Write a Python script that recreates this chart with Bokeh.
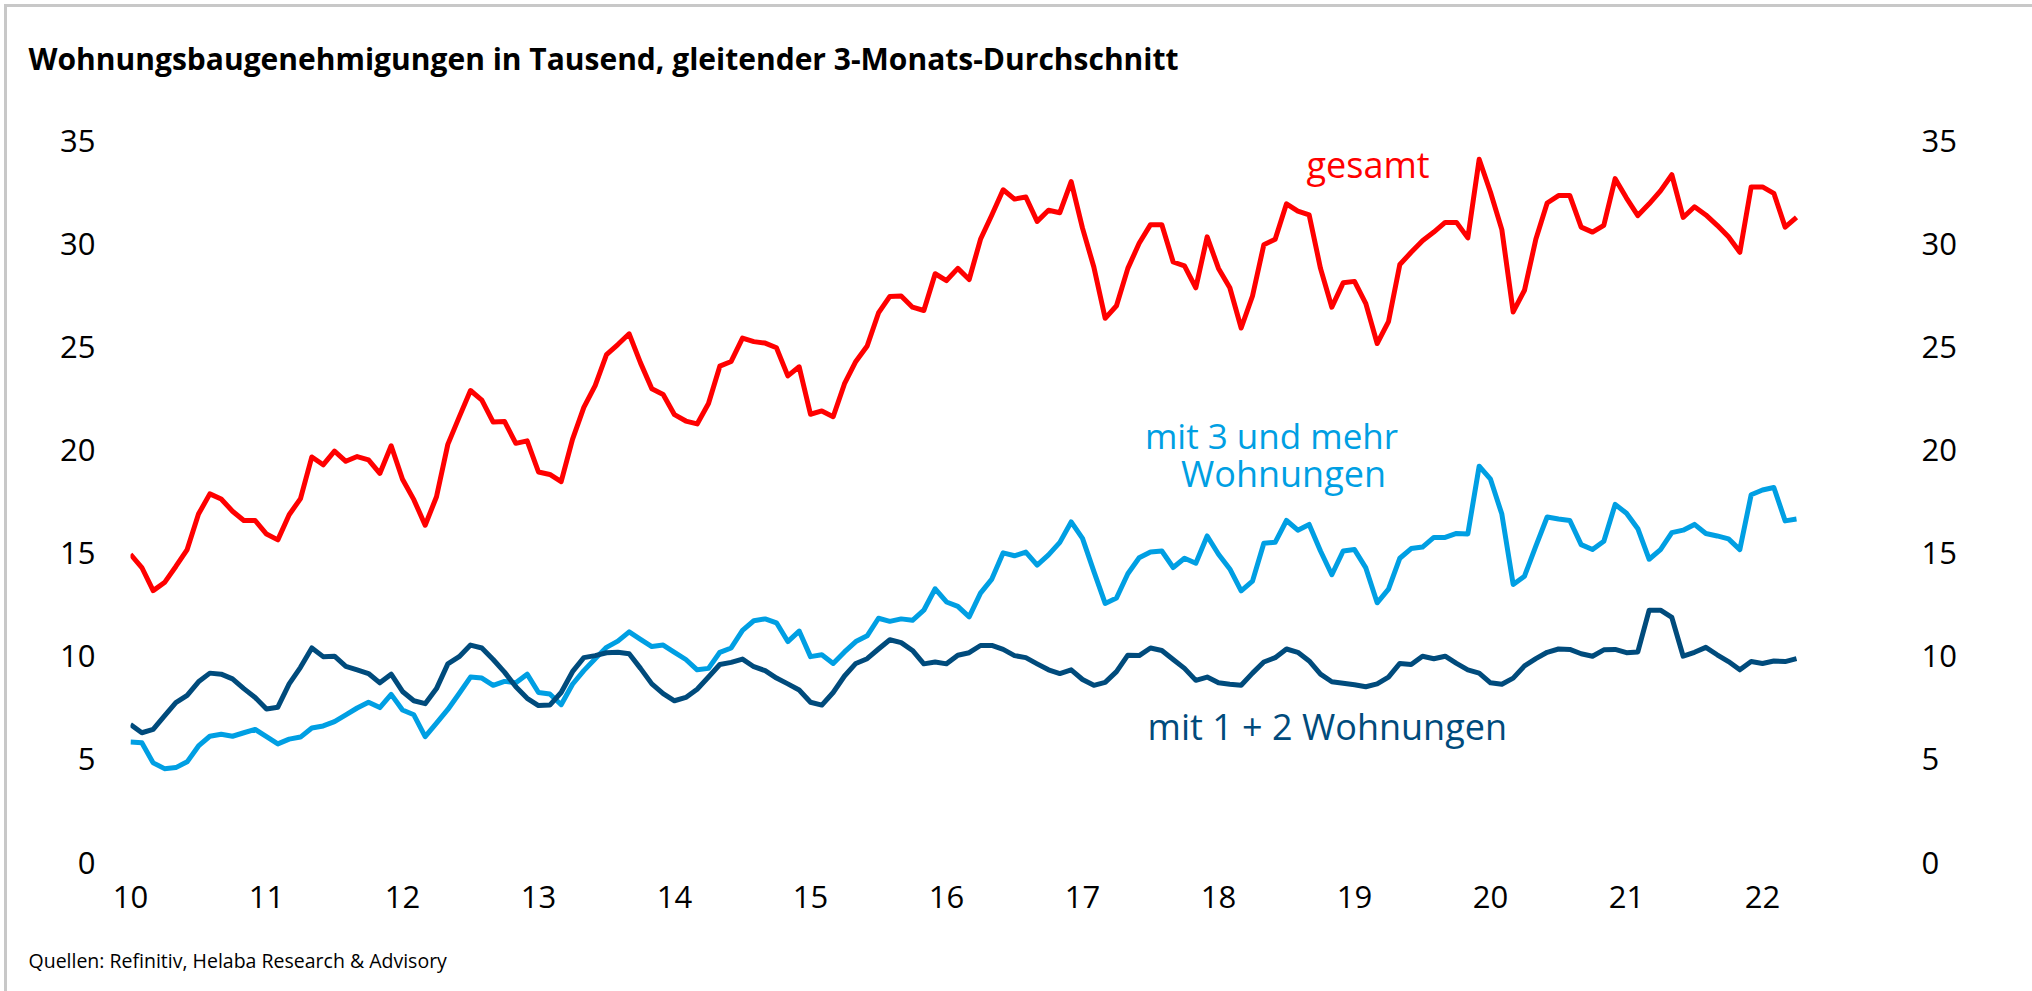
from bokeh.plotting import figure
from bokeh.models import Range1d, LinearAxis, FixedTicker, Label, Title
from bokeh.embed import file_html
from bokeh.resources import INLINE

# ---- data (monthly, Jan 2010 .. Apr 2022), thousands, 3-month moving average ----
gesamt = [14.94, 14.30, 13.18, 13.57, 14.35, 15.17, 16.89, 17.87, 17.62, 17.03, 16.58, 16.58,
          15.92, 15.64, 16.86, 17.64, 19.66, 19.28, 19.94, 19.45, 19.68, 19.52, 18.86, 20.20,
          18.58, 17.59, 16.35, 17.73, 20.27, 21.59, 22.88, 22.41, 21.35, 21.38, 20.32, 20.44,
          18.93, 18.81, 18.46, 20.51, 22.06, 23.12, 24.62, 25.11, 25.63, 24.22, 22.97, 22.69,
          21.71, 21.40, 21.26, 22.25, 24.06, 24.29, 25.42, 25.25, 25.18, 24.95, 23.59, 24.03,
          21.73, 21.89, 21.61, 23.21, 24.29, 25.04, 26.64, 27.44, 27.46, 26.92, 26.76, 28.54,
          28.21, 28.80, 28.26, 30.21, 31.39, 32.61, 32.16, 32.26, 31.08, 31.62, 31.50, 33.01,
          30.75, 28.87, 26.38, 26.99, 28.80, 30.02, 30.92, 30.92, 29.11, 28.92, 27.86, 30.33,
          28.80, 27.86, 25.91, 27.46, 29.95, 30.21, 31.93, 31.58, 31.39, 28.80, 26.92, 28.10,
          28.17, 27.09, 25.16, 26.22, 28.99, 29.58, 30.14, 30.56, 31.03, 31.03, 30.28, 34.09,
          32.49, 30.68, 26.69, 27.74, 30.21, 31.97, 32.33, 32.33, 30.80, 30.56, 30.89, 33.15,
          32.21, 31.36, 31.93, 32.56, 33.34, 31.27, 31.79, 31.39, 30.89, 30.33, 29.58, 32.75,
          32.75, 32.44, 30.80, 31.27]

mehr3 = [5.84, 5.80, 4.83, 4.55, 4.60, 4.88, 5.65, 6.12, 6.22, 6.12, 6.29, 6.45,
         6.10, 5.75, 5.98, 6.08, 6.52, 6.62, 6.83, 7.16, 7.49, 7.77, 7.51, 8.15,
         7.39, 7.16, 6.10, 6.76, 7.42, 8.19, 8.99, 8.94, 8.59, 8.78, 8.71, 9.13,
         8.24, 8.17, 7.65, 8.64, 9.30, 9.88, 10.43, 10.73, 11.18, 10.82, 10.47, 10.54,
         10.19, 9.84, 9.34, 9.41, 10.19, 10.40, 11.25, 11.72, 11.81, 11.62, 10.71, 11.22,
         9.98, 10.07, 9.65, 10.21, 10.71, 10.99, 11.84, 11.69, 11.81, 11.74, 12.23, 13.27,
         12.63, 12.42, 11.91, 13.06, 13.74, 15.01, 14.87, 15.05, 14.42, 14.91, 15.52, 16.51,
         15.71, 14.11, 12.56, 12.82, 14.00, 14.77, 15.05, 15.10, 14.30, 14.75, 14.51, 15.83,
         14.94, 14.23, 13.17, 13.64, 15.48, 15.52, 16.58, 16.11, 16.39, 15.10, 13.95, 15.10,
         15.17, 14.28, 12.59, 13.25, 14.75, 15.22, 15.29, 15.76, 15.76, 15.95, 15.93, 19.21,
         18.58, 16.89, 13.48, 13.88, 15.34, 16.75, 16.65, 16.58, 15.41, 15.17, 15.57, 17.36,
         16.93, 16.18, 14.70, 15.17, 15.99, 16.11, 16.39, 15.95, 15.83, 15.69, 15.17, 17.83,
         18.06, 18.18, 16.56, 16.65]

ein_zwei = [6.69, 6.29, 6.45, 7.11, 7.75, 8.10, 8.76, 9.18, 9.13, 8.90, 8.43, 8.00,
            7.44, 7.53, 8.66, 9.46, 10.40, 9.98, 10.00, 9.51, 9.34, 9.16, 8.71, 9.13,
            8.29, 7.84, 7.70, 8.43, 9.63, 9.98, 10.54, 10.40, 9.84, 9.23, 8.52, 7.96,
            7.61, 7.63, 8.24, 9.25, 9.93, 10.03, 10.17, 10.19, 10.12, 9.41, 8.66, 8.19,
            7.84, 8.00, 8.40, 8.99, 9.60, 9.70, 9.86, 9.49, 9.30, 8.94, 8.66, 8.36,
            7.77, 7.63, 8.24, 9.04, 9.65, 9.88, 10.35, 10.80, 10.66, 10.28, 9.63, 9.72,
            9.63, 10.05, 10.17, 10.52, 10.52, 10.33, 10.03, 9.93, 9.63, 9.34, 9.16, 9.34,
            8.87, 8.59, 8.73, 9.25, 10.05, 10.03, 10.40, 10.28, 9.84, 9.41, 8.83, 8.99,
            8.71, 8.64, 8.59, 9.18, 9.72, 9.93, 10.35, 10.19, 9.77, 9.13, 8.76, 8.69,
            8.62, 8.52, 8.66, 8.99, 9.65, 9.60, 10.00, 9.88, 10.00, 9.65, 9.34, 9.18,
            8.71, 8.64, 8.94, 9.53, 9.88, 10.19, 10.35, 10.33, 10.12, 10.00, 10.31, 10.33,
            10.17, 10.21, 12.23, 12.23, 11.88, 10.00, 10.19, 10.43, 10.07, 9.74, 9.34, 9.74,
            9.65, 9.77, 9.74, 9.88]

x_ticks = [10, 11, 12, 13, 14, 15, 16, 17, 18, 19, 20, 21, 22]
y_ticks = [0, 5, 10, 15, 20, 25, 30, 35]

title_text = "Wohnungsbaugenehmigungen in Tausend, gleitender 3-Monats-Durchschnitt"
source_text = "Quellen: Refinitiv, Helaba Research & Advisory"

# x positions: months as fractional two-digit years
months = [10 + i / 12 for i in range(len(gesamt))]

RED = "#FF0000"
LBLUE = "#009FE3"
DBLUE = "#004B7C"
FONT = "Open Sans"

W, H = 2032, 991
p = figure(width=W, height=H, output_backend="svg", toolbar_location=None,
           x_range=Range1d(10, 23), y_range=Range1d(0, 35),
           min_border_left=130, min_border_right=134, min_border_top=140,
           min_border_bottom=129)
p.outline_line_color = None
p.xgrid.visible = False
p.ygrid.visible = False
p.background_fill_color = "white"
# transparent border so the host's inset shadows (thin grey top/left frame lines) show
p.border_fill_color = None
p.styles = {
    "background-color": "white",
    "box-shadow": "inset 4px 4px 0 0 white, inset 7px 7px 0 0 #C8C8C8",
}

def style_axis(ax, standoff):
    ax.axis_line_color = None
    ax.major_tick_line_color = None
    ax.minor_tick_line_color = None
    ax.major_label_text_font = FONT
    ax.major_label_text_font_size = "31px"
    ax.major_label_text_color = "black"
    ax.major_label_standoff = standoff

p.xaxis.ticker = FixedTicker(ticks=x_ticks)
p.yaxis.ticker = FixedTicker(ticks=y_ticks)
style_axis(p.xaxis[0], 17)
style_axis(p.yaxis[0], 29)

right = LinearAxis(ticker=FixedTicker(ticks=y_ticks))
style_axis(right, 17)
p.add_layout(right, "right")

p.line(months, gesamt, line_color=RED, line_width=5, line_join="round")
p.line(months, mehr3, line_color=LBLUE, line_width=5, line_join="round")
p.line(months, ein_zwei, line_color=DBLUE, line_width=5, line_join="round")

def lab(x, y, t, c, size="36px"):
    p.add_layout(Label(x=x, y=y, text=t, text_color=c, text_font=FONT,
                       text_font_size=size, text_align="center",
                       text_baseline="alphabetic"))

lab(19.10, 33.85, "gesamt", RED)
lab(18.39, 20.71, "mit 3 und mehr", LBLUE, "35px")
lab(18.478, 18.86, "Wohnungen", LBLUE)
lab(18.80, 6.60, "mit 1 + 2 Wohnungen", DBLUE)

# title (above) and source (below); padding keeps the frame in place
p.add_layout(Title(text=title_text, align="left", offset=-102, standoff=0,
                   padding=dict(left=0, right=0, top=0, bottom=62),
                   text_font=FONT, text_font_style="bold", text_font_size="30px",
                   text_color="black"), "above")
p.add_layout(Title(text=source_text, align="left", offset=-102, standoff=0,
                   padding=dict(left=0, right=0, top=34, bottom=0),
                   text_font=FONT, text_font_style="normal", text_font_size="19.5px",
                   text_color="black"), "below")

open("out.html", "w").write(file_html(p, INLINE))
